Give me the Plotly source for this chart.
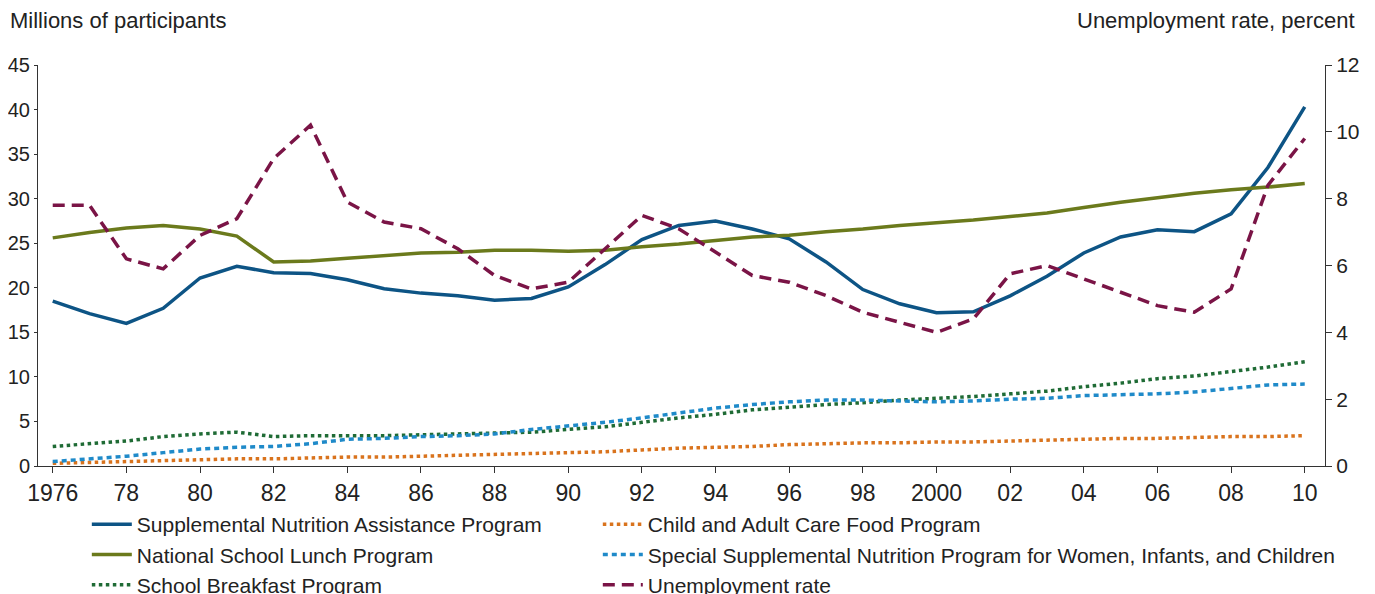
import plotly.graph_objects as go

years = list(range(1976, 2011))
snap = [18.5, 17.1, 16.0, 17.7, 21.1, 22.4, 21.7, 21.6, 20.9, 19.9, 19.4, 19.1, 18.6, 18.8, 20.1, 22.6, 25.4, 27.0, 27.5, 26.6,
        25.5, 22.9, 19.8, 18.2, 17.2, 17.3, 19.1, 21.3, 23.9, 25.7, 26.5, 26.3, 28.3, 33.5, 40.3]
nslp = [25.6, 26.2, 26.7, 27.0, 26.6, 25.8, 22.9, 23.0, 23.3, 23.6, 23.9, 24.0, 24.2, 24.2, 24.1, 24.2, 24.6, 24.9, 25.3, 25.7,
        25.9, 26.3, 26.6, 27.0, 27.3, 27.6, 28.0, 28.4, 29.0, 29.6, 30.1, 30.6, 31.0, 31.3, 31.7]
sbp = [2.2, 2.5, 2.8, 3.3, 3.6, 3.8, 3.3, 3.4, 3.4, 3.4, 3.5, 3.6, 3.7, 3.8, 4.1, 4.4, 4.9, 5.4, 5.8, 6.3,
       6.6, 6.9, 7.1, 7.4, 7.6, 7.8, 8.1, 8.4, 8.9, 9.3, 9.8, 10.1, 10.6, 11.1, 11.7]
wic = [0.5, 0.8, 1.1, 1.5, 1.9, 2.1, 2.2, 2.5, 3.0, 3.1, 3.3, 3.4, 3.6, 4.1, 4.5, 4.9, 5.4, 5.9, 6.5, 6.9,
       7.2, 7.4, 7.4, 7.3, 7.2, 7.3, 7.5, 7.6, 7.9, 8.0, 8.1, 8.3, 8.7, 9.1, 9.2]
cacfp = [0.3, 0.4, 0.5, 0.6, 0.7, 0.8, 0.8, 0.9, 1.0, 1.0, 1.1, 1.2, 1.3, 1.4, 1.5, 1.6, 1.8, 2.0, 2.1, 2.2,
         2.4, 2.5, 2.6, 2.6, 2.7, 2.7, 2.8, 2.9, 3.0, 3.1, 3.1, 3.2, 3.3, 3.3, 3.4]
unemp = [7.8, 7.8, 6.2, 5.9, 6.9, 7.4, 9.2, 10.2, 7.9, 7.3, 7.1, 6.5, 5.7, 5.3, 5.5, 6.5, 7.5, 7.1, 6.4, 5.7,
         5.5, 5.1, 4.6, 4.3, 4.0, 4.4, 5.75, 6.0, 5.6, 5.2, 4.8, 4.6, 5.3, 8.4, 9.8]

tickvals = list(range(1976, 2011, 2))
ticktext = ["1976"] + [("2000" if y == 2000 else str(y)[2:]) for y in tickvals[1:]]

fig = go.Figure()
series = [
    (snap, "Supplemental Nutrition Assistance Program", "#0d5485", "solid", "y", "legend"),
    (nslp, "National School Lunch Program", "#6b7a1c", "solid", "y", "legend"),
    (sbp, "School Breakfast Program", "#1f6b35", "dot", "y", "legend"),
    (cacfp, "Child and Adult Care Food Program", "#d9731d", "dot", "y", "legend2"),
    (wic, "Special Supplemental Nutrition Program for Women, Infants, and Children", "#1f8ac9", "5px,4px", "y", "legend2"),
    (unemp, "Unemployment rate", "#7a1446", "12px,7px", "y2", "legend2"),
]
for vals, name, color, dash, ax, leg in series:
    fig.add_trace(go.Scatter(x=years, y=vals, name=name, mode="lines", yaxis=ax, legend=leg,
                             line=dict(color=color, width=3.5, dash=dash)))

leg_common = dict(orientation="v", xref="container", yref="container", y=90 / 586,
                  xanchor="left", yanchor="top", font=dict(size=21), tracegroupgap=0,
                  itemwidth=40, bgcolor="rgba(0,0,0,0)")

fig.update_layout(
    width=1359, height=586, plot_bgcolor="white", paper_bgcolor="white",
    font=dict(family="Liberation Sans, Arial", size=23, color="#222"),
    margin=dict(l=30, r=42, t=57, b=128, autoexpand=False),
    xaxis=dict(range=[1975.6, 2010.55], tickvals=tickvals, ticktext=ticktext, showgrid=False,
               showline=True, linecolor="#333", ticks="outside", ticklen=6, tickcolor="#333"),
    yaxis=dict(range=[0, 45], dtick=5, showgrid=False, showline=True, linecolor="#333",
               ticks="outside", ticklen=3, tickcolor="#333", tickfont=dict(size=20)),
    yaxis2=dict(range=[0, 12], dtick=2, overlaying="y", side="right", showgrid=False,
                showline=True, linecolor="#333", ticks="outside", ticklen=6, tickcolor="#333",
                tickfont=dict(size=21)),
    legend=dict(x=0.058, **leg_common),
    legend2=dict(x=0.434, **leg_common),
    annotations=[
        dict(text="Millions of participants", xref="paper", yref="paper", x=-0.023, y=1.11,
             xanchor="left", yanchor="middle", showarrow=False, font=dict(size=22)),
        dict(text="Unemployment rate, percent", xref="paper", yref="paper", x=1.025, y=1.11,
             xanchor="right", yanchor="middle", showarrow=False, font=dict(size=22)),
    ],
)
fig.write_html("out.html")
